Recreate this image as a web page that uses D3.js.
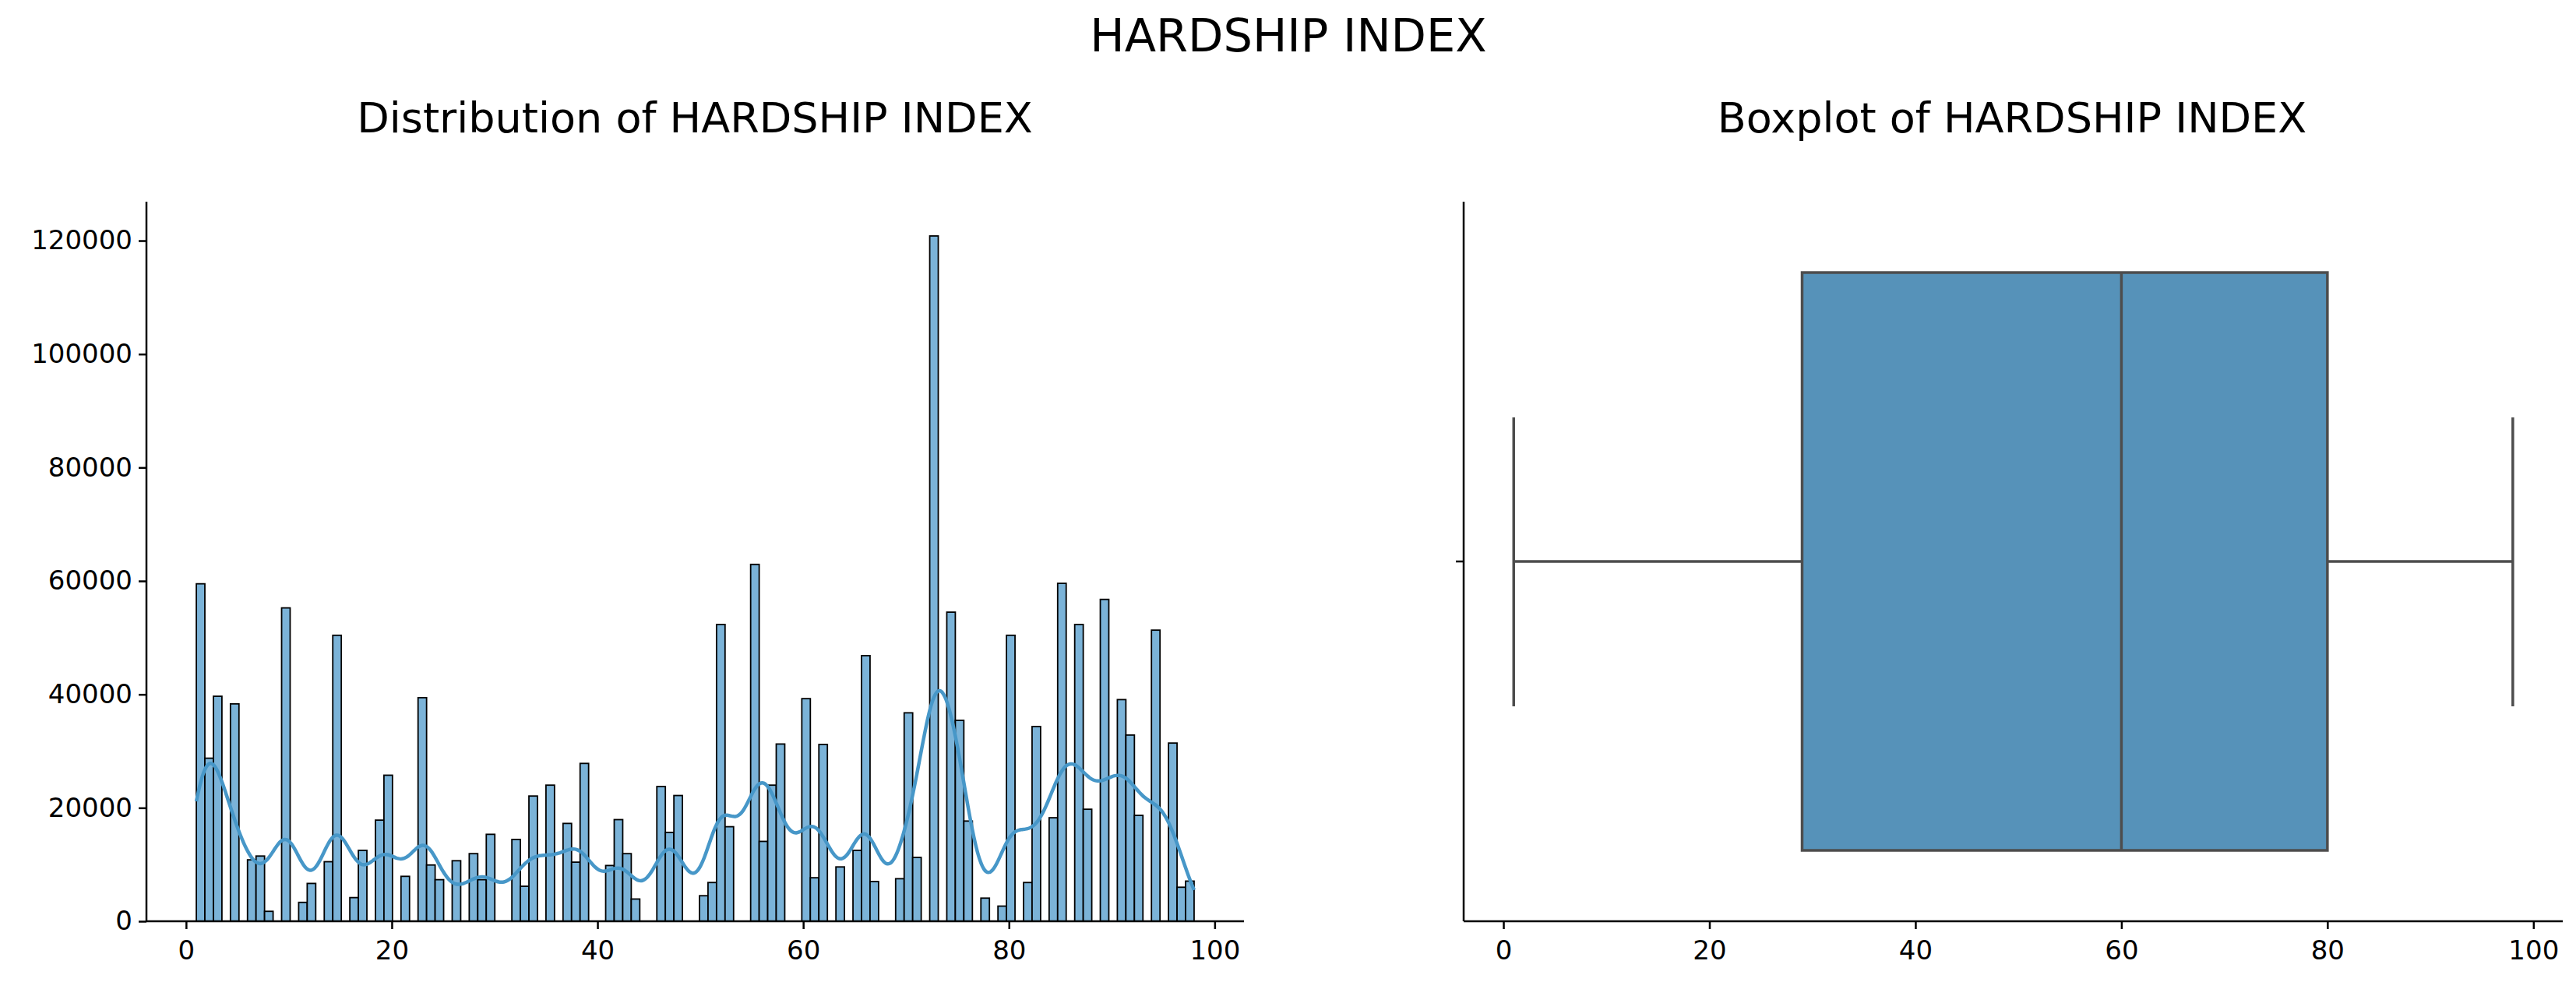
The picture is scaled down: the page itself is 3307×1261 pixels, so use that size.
<!DOCTYPE html>
<html><head><meta charset="utf-8">
<script src="https://cdn.jsdelivr.net/npm/d3@7"></script>
<style>body{margin:0;background:#fff}text{font-family:"DejaVu Sans",sans-serif}</style>
</head><body><svg id="c" width="3307" height="1261"></svg>
<script>
const binStart = 1, binEnd = 98, nBins = 117;
const counts = [59500,28750,39670,0,38330,0,10830,11500,1750,0,
55250,0,3330,6670,0,10500,50420,0,4170,12500,
0,17830,25750,0,7920,0,39420,9920,7330,0,
10670,0,11920,7330,15330,0,0,14420,6170,22080,
0,24000,0,17250,10420,27830,0,0,9830,17920,
11920,3920,0,0,23750,15670,22170,0,0,4500,
6830,52330,16670,0,0,62920,14080,24000,31250,0,
0,39250,7670,31170,0,9580,0,12500,46830,7000,
0,0,7500,36750,11250,0,120830,0,54500,35420,
17670,0,4080,0,2670,50420,0,6830,34330,0,
18250,59580,0,52330,19750,0,56750,0,39080,32830,
18670,0,51330,0,31420,6000,7080];
const xTicks = [0,20,40,60,80,100];
const yTicks = [0,20000,40000,60000,80000,100000,120000];
const boxStats = {min:1, q1:29, median:60, q3:80, max:98};

const svg = d3.select("#c");
const pTop=259, pBot=1183;
const w = (binEnd-binStart)/nBins;
const bins = counts.map((c,i)=>({x0:binStart+i*w, x1:binStart+(i+1)*w, c}));

svg.append("text").attr("x",1654).attr("y",66).attr("text-anchor","middle").attr("font-size",59).text("HARDSHIP INDEX");
svg.append("text").attr("x",892).attr("y",170).attr("text-anchor","middle").attr("font-size",54).text("Distribution of HARDSHIP INDEX");
svg.append("text").attr("x",2583).attr("y",170).attr("text-anchor","middle").attr("font-size",54).text("Boxplot of HARDSHIP INDEX");

// Histogram
const x1 = d3.scaleLinear().domain([-3.85,102.85]).range([188,1597]);
const y1 = d3.scaleLinear().domain([0,126870]).range([pBot,pTop]);
const g1 = svg.append("g");
g1.selectAll("rect").data(bins.filter(b=>b.c>0)).join("rect")
 .attr("x",d=>x1(d.x0)).attr("width",d=>x1(d.x1)-x1(d.x0))
 .attr("y",d=>y1(d.c)).attr("height",d=>y1(0)-y1(d.c))
 .attr("fill","#7bb3d8").attr("stroke","#000").attr("stroke-width",1.8);
const bw = 1.45;
const kx = d3.range(binStart, binEnd+0.001, 0.2);
const kde = kx.map(v=>{
  let s=0; bins.forEach(b=>{const m=(b.x0+b.x1)/2; const z=(v-m)/bw; s+=b.c*Math.exp(-0.5*z*z);});
  return [v, s/(bw*Math.sqrt(2*Math.PI))*w];
});
g1.append("path").datum(kde).attr("fill","none").attr("stroke","#4797c8").attr("stroke-width",4.5)
 .attr("d",d3.line().x(d=>x1(d[0])).y(d=>y1(d[1])).curve(d3.curveBasis));
const ax1 = g1.append("g").attr("transform",`translate(0,${pBot})`).call(d3.axisBottom(x1).tickValues(xTicks).tickSize(10).tickPadding(8));
const ay1 = g1.append("g").attr("transform",`translate(188,0)`).call(d3.axisLeft(y1).tickValues(yTicks).tickFormat(d3.format("d")).tickSize(10).tickPadding(8));
[ax1,ay1].forEach(a=>{a.selectAll("text").attr("font-size",34).attr("font-family","DejaVu Sans");
 a.selectAll("line,path").attr("stroke","#000").attr("stroke-width",2.5);
 a.select(".domain").attr("d", a===ax1?`M188,0H1597`:`M0,${pBot}V${pTop}`);});
ax1.selectAll("text").attr("dy","0.9em");

// Boxplot
const x2 = d3.scaleLinear().domain([-3.86,102.85]).range([1879,3290]);
const g2 = svg.append("g");
const cy=721, bTop=350, bBot=1092, cTop=536, cBot=907, col="#4d4d4d";
g2.append("line").attr("x1",x2(boxStats.min)).attr("x2",x2(boxStats.q1)).attr("y1",cy).attr("y2",cy).attr("stroke",col).attr("stroke-width",3.5);
g2.append("line").attr("x1",x2(boxStats.q3)).attr("x2",x2(boxStats.max)).attr("y1",cy).attr("y2",cy).attr("stroke",col).attr("stroke-width",3.5);
[boxStats.min,boxStats.max].forEach(v=>g2.append("line").attr("x1",x2(v)).attr("x2",x2(v)).attr("y1",cTop).attr("y2",cBot).attr("stroke",col).attr("stroke-width",3.5));
g2.append("rect").attr("x",x2(boxStats.q1)).attr("width",x2(boxStats.q3)-x2(boxStats.q1)).attr("y",bTop).attr("height",bBot-bTop)
 .attr("fill","#5692b9").attr("stroke",col).attr("stroke-width",3.5);
g2.append("line").attr("x1",x2(boxStats.median)).attr("x2",x2(boxStats.median)).attr("y1",bTop).attr("y2",bBot).attr("stroke",col).attr("stroke-width",3.5);
const ax2 = g2.append("g").attr("transform",`translate(0,${pBot})`).call(d3.axisBottom(x2).tickValues(xTicks).tickSize(10).tickPadding(8));
ax2.selectAll("text").attr("font-size",34).attr("font-family","DejaVu Sans").attr("dy","0.9em");
ax2.selectAll("line,path").attr("stroke","#000").attr("stroke-width",2.5);
ax2.select(".domain").attr("d",`M1879,0H3290`);
g2.append("line").attr("x1",1879).attr("x2",1879).attr("y1",pTop).attr("y2",pBot).attr("stroke","#000").attr("stroke-width",2.5);
g2.append("line").attr("x1",1869).attr("x2",1879).attr("y1",cy).attr("y2",cy).attr("stroke","#000").attr("stroke-width",2.5);
</script></body></html>
